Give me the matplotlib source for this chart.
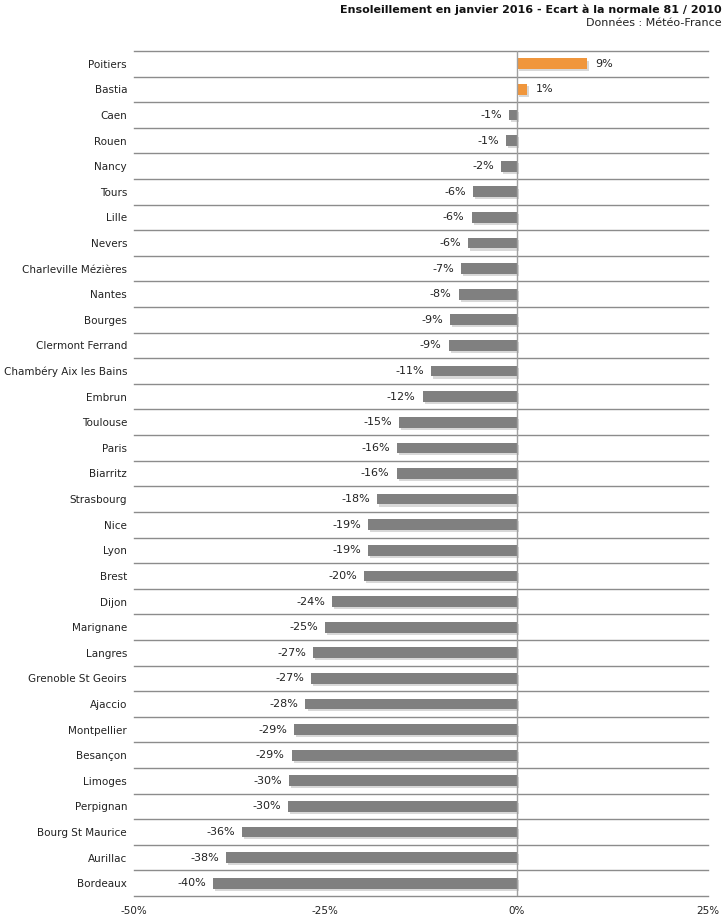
import matplotlib
matplotlib.use("Agg")
import matplotlib.pyplot as plt
import matplotlib.patheffects as pe
import numpy as np

cities = ["Poitiers", "Bastia", "Caen", "Rouen", "Nancy", "Tours", "Lille", "Nevers",
          "Charleville Mézières", "Nantes", "Bourges", "Clermont Ferrand",
          "Chambéry Aix les Bains", "Embrun", "Toulouse", "Paris", "Biarritz",
          "Strasbourg", "Nice", "Lyon", "Brest", "Dijon", "Marignane", "Langres",
          "Grenoble St Geoirs", "Ajaccio", "Montpellier", "Besançon", "Limoges",
          "Perpignan", "Bourg St Maurice", "Aurillac", "Bordeaux"]
values = [9.2, 1.4, -1.0, -1.4, -2.0, -5.7, -5.9, -6.4,
          -7.3, -7.6, -8.7, -8.9,
          -11.2, -12.3, -15.4, -15.6, -15.7,
          -18.2, -19.4, -19.4, -19.9, -24.1, -25.0, -26.6,
          -26.9, -27.6, -29.1, -29.4, -29.8,
          -29.9, -35.9, -38.0, -39.7]
xticks = [-50, -25, 0, 25]
xtick_labels = ["-50%", "-25%", "0%", "25%"]

title = "Ensoleillement en janvier 2016 - Ecart à la normale 81 / 2010"
subtitle = "Données : Météo-France"

GRAY = "#808080"
ORANGE = "#F0963C"

plt.rcParams["font.family"] = ["DejaVu Sans"]
fig = plt.figure(figsize=(7.27, 9.19), dpi=100)
ax = fig.add_axes([134/727, 1-896/919, (708-134)/727, (896-51)/919])

n = len(cities)
y = np.arange(n)
colors = [ORANGE if v > 0 else GRAY for v in values]
bars = ax.barh(y, values, height=0.42, color=colors, zorder=3)
for b in bars:
    b.set_path_effects([pe.SimplePatchShadow(offset=(1.5, -1.5), shadow_rgbFace="#c8c8c8", alpha=0.7),
                        pe.Normal()])

FS = 7.5
for yi, v in zip(y, values):
    lab = f"{int(round(v))}%"
    if v >= 0:
        ax.annotate(lab, (v, yi), xytext=(6, 0), textcoords="offset points",
                    ha="left", va="center", fontsize=8, color="#222222")
    else:
        ax.annotate(lab, (v, yi), xytext=(-5, 0), textcoords="offset points",
                    ha="right", va="center", fontsize=8, color="#222222")

ax.set_xlim(-50, 25)
ax.set_ylim(n - 0.5, -0.5)
ax.set_yticks(y)
ax.set_yticklabels(cities, fontsize=FS, color="#222222")
ax.set_xticks(xticks)
ax.set_xticklabels(xtick_labels, fontsize=FS, color="#222222")
ax.tick_params(axis="both", length=0)
ax.tick_params(axis="y", pad=5)
ax.tick_params(axis="x", pad=7)

for b in np.arange(-0.5, n, 1.0):
    ax.axhline(b, color="#8c8c8c", lw=1, zorder=1, clip_on=False)
ax.axvline(0, color="#a0a0a0", lw=1, zorder=4)

for s in ax.spines.values():
    s.set_visible(False)

fig.text(722/727, 1-10/919, title, ha="right", va="center", fontsize=8,
         fontweight="bold", color="#111111")
fig.text(722/727, 1-23/919, subtitle, ha="right", va="center", fontsize=8,
         color="#222222")

fig.savefig("out.png", dpi=100)
